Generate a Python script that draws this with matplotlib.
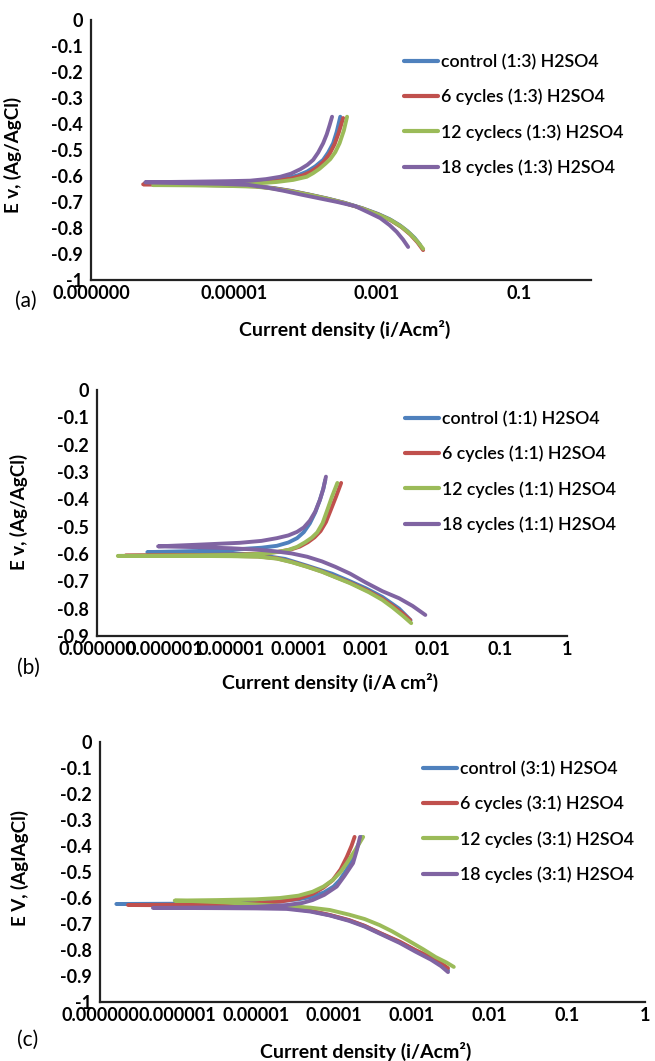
import matplotlib
matplotlib.use("Agg")
import matplotlib.pyplot as plt
import numpy as np

plt.rcParams['font.family'] = ['Lato', 'DejaVu Sans']

W, H = 655, 1061
colors = ['#4F81BD', '#C0504D', '#9BBB59', '#8064A2']

# values: log10 of current density (A/cm2) and potential (V)
# each series runs from the cathodic end, through Ecorr, up the anodic branch

# ---- panel (a): (1:3) H2SO4 ----
labels_a = ['control (1:3) H2SO4', '6 cycles (1:3) H2SO4',
            '12 cyclecs (1:3) H2SO4', '18 cycles (1:3) H2SO4']
logi_a_control = [-2.39, -2.47, -2.57, -2.68, -2.82, -2.98, -3.2, -3.45, -3.7, -3.95, -4.2, -4.45,
                  -4.7, -5.1, -5.6, -6.13, -5.6, -5.1, -4.73, -4.45, -4.255, -4.10, -3.975,
                  -3.86, -3.75, -3.68, -3.61, -3.56, -3.51]
E_a_control = [-0.866, -0.838, -0.812, -0.789, -0.766, -0.746, -0.724, -0.703, -0.686, -0.671, -0.657,
               -0.646, -0.639, -0.636, -0.634, -0.633, -0.629, -0.626, -0.622, -0.616, -0.608, -0.597,
               -0.583, -0.563, -0.538, -0.510, -0.474, -0.430, -0.372]
logi_a_6 = [-2.35, -2.43, -2.53, -2.65, -2.80, -2.97, -3.2, -3.45, -3.7, -3.95, -4.2, -4.45, -4.7,
            -5.1, -5.6, -6.0, -6.27, -5.6, -5.1, -4.7, -4.42, -4.2, -4.03, -3.93, -3.83, -3.74,
            -3.66, -3.59, -3.53, -3.47]
E_a_6 = [-0.885, -0.855, -0.825, -0.797, -0.771, -0.749, -0.725, -0.704, -0.687, -0.672, -0.658,
         -0.647, -0.640, -0.636, -0.634, -0.633, -0.632, -0.630, -0.628, -0.625, -0.618, -0.610,
         -0.597, -0.585, -0.566, -0.544, -0.515, -0.478, -0.432, -0.377]
logi_a_12 = [-2.35, -2.43, -2.53, -2.65, -2.80, -2.97, -3.2, -3.45, -3.7, -3.95, -4.2, -4.45, -4.7,
             -5.1, -5.6, -6.13, -5.6, -5.1, -4.7, -4.40, -4.17, -3.98, -3.89, -3.80, -3.72, -3.65,
             -3.58, -3.52, -3.46, -3.415]
E_a_12 = [-0.880, -0.852, -0.823, -0.796, -0.770, -0.749, -0.725, -0.704, -0.687, -0.672, -0.659,
          -0.648, -0.641, -0.638, -0.636, -0.635, -0.634, -0.632, -0.629, -0.623, -0.615, -0.603,
          -0.589, -0.572, -0.553, -0.535, -0.508, -0.474, -0.425, -0.372]
logi_a_18 = [-2.56, -2.63, -2.72, -2.82, -2.95, -3.10, -3.30, -3.55, -3.80, -4.05, -4.30, -4.55,
             -4.80, -5.2, -5.6, -6.0, -6.24, -5.6, -5.1, -4.77, -4.55, -4.35, -4.20, -4.07, -3.97,
             -3.89, -3.82, -3.75, -3.70, -3.66, -3.625]
E_a_18 = [-0.873, -0.845, -0.815, -0.789, -0.762, -0.742, -0.716, -0.700, -0.686, -0.672, -0.657,
          -0.644, -0.634, -0.630, -0.628, -0.626, -0.624, -0.622, -0.620, -0.618, -0.612, -0.603,
          -0.591, -0.574, -0.557, -0.538, -0.510, -0.474, -0.440, -0.405, -0.372]

# ---- panel (b): (1:1) H2SO4 ----
labels_b = ['control (1:1) H2SO4', '6 cycles (1:1) H2SO4',
            '12 cycles (1:1) H2SO4', '18 cycles (1:1) H2SO4']
logi_b_control = [-2.33, -2.5, -2.75, -3.0, -3.23, -3.5, -3.87, -4.2, -4.6, -5.0, -5.6, -6.25,
                  -5.5, -4.87, -4.55, -4.32, -4.15, -4.02, -3.92, -3.83, -3.75, -3.68, -3.63, -3.60]
E_b_control = [-0.842, -0.800, -0.757, -0.725, -0.700, -0.672, -0.643, -0.618, -0.603, -0.597,
               -0.594, -0.593, -0.589, -0.582, -0.577, -0.570, -0.558, -0.542, -0.520, -0.488,
               -0.448, -0.402, -0.362, -0.329]
logi_b_6 = [-2.335, -2.45, -2.6, -2.75, -2.95, -3.23, -3.45, -3.65, -3.87, -4.1, -4.32, -4.6, -5.0,
            -5.6, -6.58, -5.6, -4.87, -4.5, -4.30, -4.12, -3.98, -3.86, -3.76, -3.67, -3.59, -3.52,
            -3.44, -3.364]
E_b_6 = [-0.842, -0.817, -0.789, -0.764, -0.737, -0.705, -0.684, -0.664, -0.646, -0.629, -0.616,
         -0.609, -0.607, -0.606, -0.606, -0.604, -0.602, -0.597, -0.592, -0.584, -0.573, -0.557,
         -0.539, -0.516, -0.483, -0.440, -0.390, -0.340]
logi_b_12 = [-2.32, -2.45, -2.6, -2.75, -2.95, -3.23, -3.45, -3.65, -3.87, -4.1, -4.32, -4.6, -5.0,
             -5.6, -6.69, -5.6, -4.87, -4.5, -4.32, -4.15, -4.02, -3.90, -3.80, -3.72, -3.64, -3.57,
             -3.50, -3.42]
E_b_12 = [-0.853, -0.825, -0.795, -0.768, -0.740, -0.707, -0.685, -0.665, -0.647, -0.630, -0.617,
          -0.610, -0.608, -0.607, -0.607, -0.605, -0.603, -0.598, -0.593, -0.585, -0.574, -0.557,
          -0.540, -0.521, -0.487, -0.439, -0.390, -0.340]
logi_b_18 = [-2.11, -2.30, -2.50, -2.75, -3.00, -3.23, -3.45, -3.65, -3.87, -4.10, -4.35, -4.62,
             -5.0, -5.5, -6.09, -5.5, -4.87, -4.55, -4.32, -4.15, -4.02, -3.92, -3.83, -3.75, -3.68,
             -3.63, -3.59]
E_b_18 = [-0.823, -0.790, -0.762, -0.736, -0.704, -0.672, -0.647, -0.627, -0.610, -0.598, -0.590,
          -0.584, -0.579, -0.575, -0.572, -0.566, -0.559, -0.552, -0.542, -0.532, -0.519, -0.503,
          -0.478, -0.445, -0.402, -0.362, -0.317]

# ---- panel (c): (3:1) H2SO4 ----
labels_c = ['control (3:1) H2SO4', '6 cycles (3:1) H2SO4',
            '12 cycles (3:1) H2SO4', '18 cycles (3:1) H2SO4']
logi_c_control = [-2.53, -2.62, -2.75, -2.95, -3.15, -3.40, -3.6, -3.8, -4.05, -4.3, -4.6, -5.0,
                  -5.5, -6.0, -6.79, -6.0, -5.46, -5.0, -4.69, -4.45, -4.27, -4.12, -4.00, -3.92,
                  -3.83, -3.75, -3.69, -3.64]
E_c_control = [-0.878, -0.856, -0.832, -0.802, -0.770, -0.736, -0.708, -0.686, -0.666, -0.650,
               -0.639, -0.632, -0.627, -0.625, -0.623, -0.622, -0.621, -0.618, -0.612, -0.605,
               -0.595, -0.578, -0.556, -0.531, -0.490, -0.442, -0.400, -0.365]
logi_c_6 = [-2.53, -2.62, -2.75, -2.95, -3.15, -3.40, -3.6, -3.8, -4.05, -4.3, -4.6, -5.0, -5.5,
            -6.0, -6.64, -6.0, -5.46, -5.0, -4.69, -4.45, -4.27, -4.13, -4.01, -3.91, -3.83, -3.77,
            -3.73]
E_c_6 = [-0.870, -0.850, -0.828, -0.800, -0.768, -0.735, -0.707, -0.685, -0.665, -0.649, -0.638,
         -0.632, -0.629, -0.628, -0.627, -0.626, -0.624, -0.620, -0.614, -0.602, -0.584, -0.560,
         -0.531, -0.490, -0.442, -0.400, -0.365]
logi_c_12 = [-2.456, -2.55, -2.69, -2.85, -3.05, -3.25, -3.41, -3.6, -3.8, -4.05, -4.3, -4.6, -5.0,
             -5.4, -5.8, -6.04, -5.5, -5.0, -4.69, -4.45, -4.27, -4.13, -4.01, -3.91, -3.83, -3.72,
             -3.62]
E_c_12 = [-0.865, -0.848, -0.827, -0.797, -0.762, -0.728, -0.704, -0.681, -0.664, -0.646, -0.637,
          -0.631, -0.625, -0.617, -0.612, -0.610, -0.608, -0.605, -0.600, -0.591, -0.576, -0.556,
          -0.531, -0.500, -0.466, -0.415, -0.365]
logi_c_18 = [-2.53, -2.62, -2.75, -2.95, -3.15, -3.40, -3.6, -3.8, -4.05, -4.3, -4.6, -5.0, -5.5,
             -6.32, -5.5, -5.0, -4.6, -4.40, -4.27, -4.12, -3.96, -3.86, -3.75, -3.70, -3.66]
E_c_18 = [-0.885, -0.862, -0.837, -0.806, -0.773, -0.738, -0.710, -0.688, -0.667, -0.652, -0.642,
          -0.640, -0.639, -0.638, -0.636, -0.634, -0.627, -0.619, -0.608, -0.588, -0.556, -0.515,
          -0.466, -0.415, -0.365]

xticks_a = [1e-7, 1e-5, 1e-3, 1e-1]
xlabels_a = ['0.000000', '0.00001', '0.001', '0.1']
xticks_bc = [1e-7, 1e-6, 1e-5, 1e-4, 1e-3, 1e-2, 1e-1, 1]
xlabels_bc = ['0.000000', '0.000001', '0.00001', '0.0001', '0.001', '0.01', '0.1', '1']


def ylab(v):
    if abs(v) < 1e-9:
        return '0'
    if abs(v + 1) < 1e-9:
        return '-1'
    return '%.1f' % v


def fig_rect(x0, y0, x1, y1):
    # pixel box -> figure fraction
    return [x0 / W, 1 - y1 / H, (x1 - x0) / W, (y1 - y0) / H]


fig = plt.figure(figsize=(W / 100, H / 100), dpi=100)

panels = [
    dict(rect=(91, 20, 591, 280), ymin=-1.0,
         series=[(logi_a_control, E_a_control), (logi_a_6, E_a_6),
                 (logi_a_12, E_a_12), (logi_a_18, E_a_18)],
         labels=labels_a, xticks=xticks_a, xlabels=xlabels_a,
         ylabel='E v, (Ag/AgCl)', xlabel='Current density (i/Acm²)',
         ylab_pos=(-0.138, 0.48), xlab_pos=(0.508, -0.19),
         leg=(404, 54), tag='(a)', tag_pos=(26, 301)),
    dict(rect=(97, 390, 567, 636), ymin=-0.9,
         series=[(logi_b_control, E_b_control), (logi_b_6, E_b_6),
                 (logi_b_12, E_b_12), (logi_b_18, E_b_18)],
         labels=labels_b, xticks=xticks_bc, xlabels=xlabels_bc,
         ylabel='E v, (Ag/AgCl)', xlabel='Current density (i/A cm²)',
         ylab_pos=(-0.147, 0.504), xlab_pos=(0.496, -0.19),
         leg=(405, 411), tag='(b)', tag_pos=(28, 668)),
    dict(rect=(100, 742, 645, 1002), ymin=-1.0,
         series=[(logi_c_control, E_c_control), (logi_c_6, E_c_6),
                 (logi_c_12, E_c_12), (logi_c_18, E_c_18)],
         labels=labels_c, xticks=xticks_bc, xlabels=xlabels_bc,
         ylabel='E V, (AgIAgCl)', xlabel='Current density (i/Acm²)',
         ylab_pos=(-0.130, 0.515), xlab_pos=(0.488, -0.19),
         leg=(423, 761), tag='(c)', tag_pos=(28, 1040)),
]

for p in panels:
    ax = fig.add_axes(fig_rect(*p['rect']))
    for (logi, e_vals), c, lab in zip(p['series'], colors, p['labels']):
        ax.plot(10 ** np.array(logi), e_vals, color=c, lw=2.8, label=lab,
                solid_capstyle='round', solid_joinstyle='round')
    ax.set_xscale('log')
    ax.set_xlim(1e-7, 1)
    ax.set_ylim(p['ymin'], 0)
    ax.minorticks_off()
    ax.set_xticks(p['xticks'])
    ax.set_xticklabels(p['xlabels'], fontsize=13, fontweight='bold')
    nt = int(round(-p['ymin'] * 10)) + 1
    yt = [-k / 10 for k in range(nt)]
    ax.set_yticks(yt)
    ax.set_yticklabels([ylab(v) for v in yt], fontsize=13, fontweight='bold')
    ax.tick_params(length=0, pad=6)
    ax.tick_params(axis='x', pad=3.5)
    for s in ['top', 'right']:
        ax.spines[s].set_visible(False)
    for s in ['left', 'bottom']:
        ax.spines[s].set_linewidth(1.6)
        ax.spines[s].set_color('#222222')
    ax.set_ylabel(p['ylabel'], fontsize=13.5, fontweight='bold')
    ax.yaxis.set_label_coords(*p['ylab_pos'])
    ax.set_xlabel(p['xlabel'], fontsize=14, fontweight='bold', va='center')
    ax.xaxis.set_label_coords(*p['xlab_pos'])
    lx, ly = p['leg']
    leg = ax.legend(loc='upper left', bbox_to_anchor=(lx / W, 1 - ly / H),
                    bbox_transform=fig.transFigure, frameon=False,
                    prop={'size': 12.8, 'weight': 'semibold'},
                    handlelength=1.9, handletextpad=0.2, labelspacing=1.05,
                    borderpad=0, borderaxespad=0)
    for ln in leg.get_lines():
        ln.set_linewidth(3)
    fig.text(p['tag_pos'][0] / W, 1 - p['tag_pos'][1] / H, p['tag'],
             fontsize=15, ha='center', va='center')

fig.savefig('out.png', dpi=100)
